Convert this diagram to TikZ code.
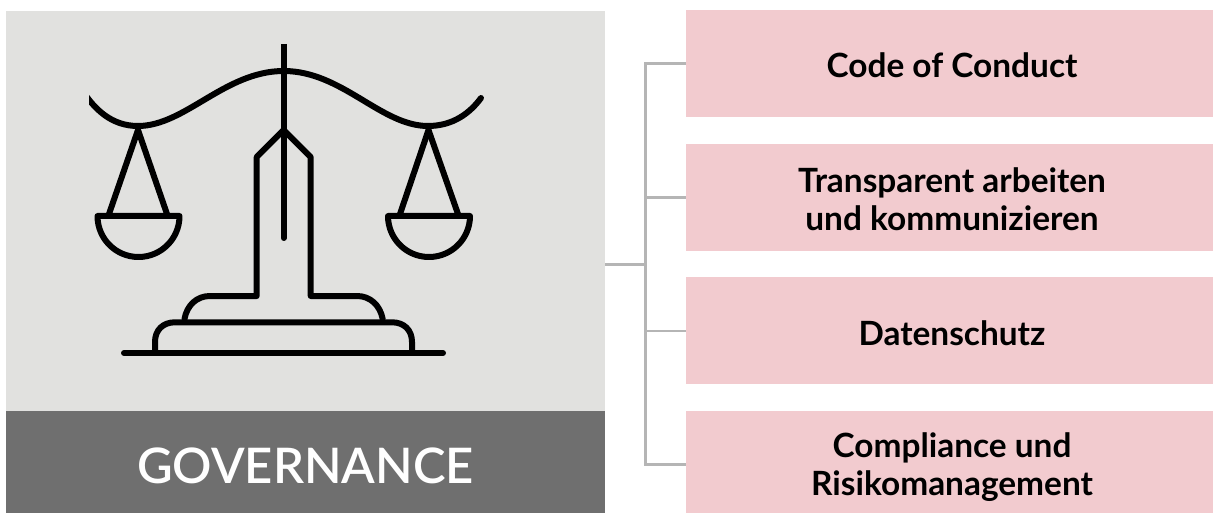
\documentclass[tikz,border=0pt]{standalone}
\usepackage{fontspec}
\setmainfont{Lato}
\newfontfamily\demi{Lato Semibold}
\definecolor{panel}{HTML}{E1E1DF}
\definecolor{dark}{HTML}{6F6F6F}
\definecolor{pink}{HTML}{F2CBCF}
\definecolor{conn}{HTML}{B5B5B5}
\tikzset{
  pinkbox/.style={fill=pink,minimum width=527pt,anchor=north west,inner sep=0pt},
  boxtext/.style={inner sep=0pt,align=center,font=\fontsize{33.4}{38}\selectfont\bfseries,text=black},
  connline/.style={draw=conn,line width=2.5pt},
  icon/.style={draw=black,line width=6pt,line join=round,line cap=round}
}
\begin{document}
\begin{tikzpicture}[x=1pt,y=-1pt]
\useasboundingbox (0,0) rectangle (1213,513);
\fill[white] (0,0) rectangle (1213,513);
\node[fill=panel,minimum width=599pt,minimum height=400pt,anchor=north west,inner sep=0pt] (panel) at (6,11) {};
\node[fill=dark,minimum width=599pt,minimum height=102pt,anchor=north west,inner sep=0pt] (band) at (6,411) {};
\node[text=white,inner sep=0pt,font=\fontsize{49}{50}\selectfont\demi] (title) at (305.5,466) {GOVERNANCE};
\node[pinkbox,minimum height=107pt] (b1) at (686,10) {};
\node[pinkbox,minimum height=107pt] (b2) at (686,144) {};
\node[pinkbox,minimum height=107pt] (b3) at (686,277) {};
\node[pinkbox,minimum height=102pt] (b4) at (686,411) {};
\node[boxtext] (t1) at (952,65) {Code of Conduct};
\node[boxtext] (t2) at (952,199) {Transparent arbeiten\\und kommunizieren};
\node[boxtext] (t3) at (952,333) {Datenschutz};
\node[boxtext] (t4) at (952,467.5) {Compliance und\\Risikomanagement};
\coordinate (trunk) at (645.7,264.3);
\draw[connline] (605,264.3) -- (trunk);
\draw[connline] (b1.west |- 0,63.7) -| (trunk |- 0,464.3) -- (b4.west |- 0,464.3);
\draw[connline] (trunk |- 0,197.3) -- (b2.west |- 0,197.3);
\draw[connline] (trunk |- 0,331) -- (b3.west |- 0,331);
% icon
\begin{scope}[shift={(60,30)}]
\begin{scope}
\clip (29,0) rectangle (450,350);
\draw[icon] (22,60) .. controls (35,80) and (52,96) .. (78,96) .. controls (125,96) and (165,41) .. (223.7,41)
  .. controls (282,41) and (321,96) .. (368,96) .. controls (393,96) and (410,83) .. (421,68);
\end{scope}
\draw[icon,line cap=butt] (223.7,14) -- (223.7,41);
\draw[icon] (223.7,41) -- (223.7,208);
\draw[icon] (78,100) -- (49,184);
\draw[icon] (78,100) -- (107,184);
\draw[icon,line cap=butt] (37.5,186) -- (119.5,186) arc[start angle=0,end angle=-180,radius=41pt] -- cycle;
\draw[icon] (368.5,100) -- (340,184);
\draw[icon] (368.5,100) -- (398,184);
\draw[icon,line cap=butt] (328,186) -- (410,186) arc[start angle=0,end angle=-180,radius=41pt] -- cycle;
% tower and feet
\draw[icon] (124.5,289) .. controls (127,275) and (137,266) .. (150,266) -- (196.7,266) -- (196.7,127) -- (223.7,100) -- (250.7,127) -- (250.7,266) -- (297,266) .. controls (310,266) and (320,275) .. (322.7,289);
% base
\draw[icon] (95,322) -- (95,312) .. controls (95,300) and (103,292.3) .. (115,292.3) -- (332,292.3) .. controls (344,292.3) and (352,300) .. (352,312) -- (352,322);
\draw[icon] (64,323) -- (383,323);
\end{scope}
\end{tikzpicture}
\end{document}
